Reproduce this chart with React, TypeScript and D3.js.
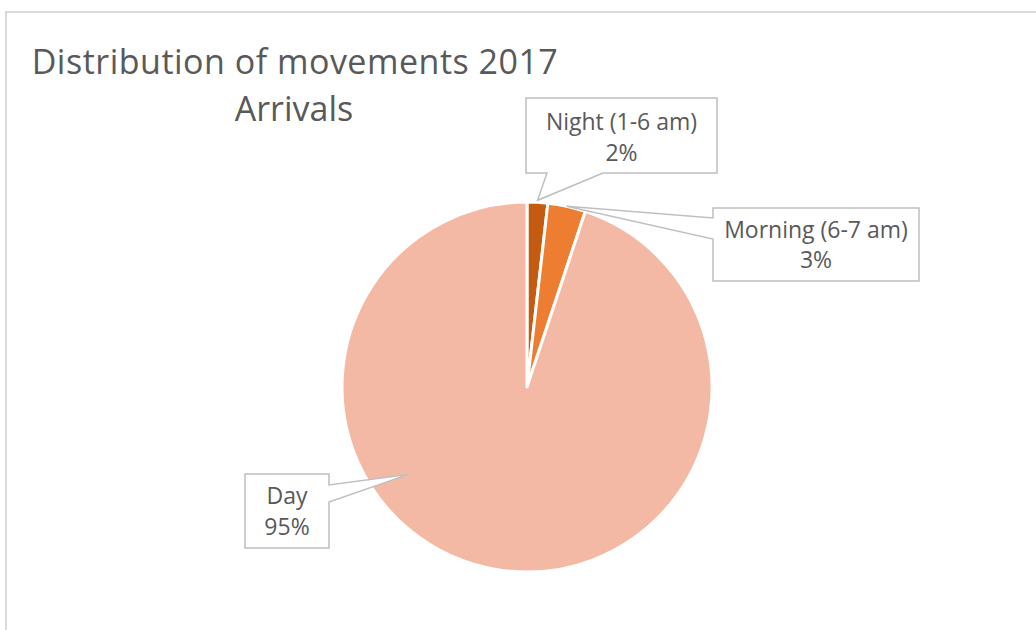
import React from "react";
import * as d3 from "d3";

const categories = ["Night (1-6 am)", "Morning (6-7 am)", "Day"];
const values = [1.8, 3.3, 94.9];
const percentLabels = ["2%", "3%", "95%"];
const colors = ["#C55A11", "#ED7D31", "#F4B9A4"];

const W = 1036;
const H = 630;
const cx = 527;
const cy = 387;
const R = 185;

export default function App() {
  const pie = d3.pie<number>().sort(null).value((d) => d);
  const arcs = pie(values);
  const arc = d3.arc<d3.PieArcDatum<number>>().innerRadius(0).outerRadius(R);

  const pointAt = (angle: number, r: number): [number, number] => [
    cx + r * Math.sin(angle),
    cy - r * Math.cos(angle),
  ];
  const mid = (a: d3.PieArcDatum<number>) => (a.startAngle + a.endAngle) / 2;

  const tipNight = pointAt(mid(arcs[0]), R + 2);
  const tipMorning = pointAt(mid(arcs[1]), R);
  const tipDay = pointAt((233.7 * Math.PI) / 180, R * 0.8);

  const calloutStroke = "#BFBFBF";
  const textColor = "#595959";
  const font = "'Open Sans', 'Noto Sans', sans-serif";

  const nightPath = `M526,98 H717 V173 H603 L${tipNight[0]},${tipNight[1]} L547,173 H526 Z`;
  const morningPath = `M713,208 H919 V281 H713 V239 L${tipMorning[0]},${tipMorning[1]} L713,218 Z`;
  const dayPath = `M245,474 H329 V485 L${tipDay[0]},${tipDay[1]} L329,502 V548 H245 Z`;

  return (
    <div style={{ position: "fixed", left: 0, top: 0, width: W, height: H, background: "#fff" }}>
      <svg width={W} height={H} style={{ display: "block" }}>
        <rect x={6} y={12} width={W + 20} height={H + 20} fill="#fff" stroke="#D9D9D9" strokeWidth={2} />
        <text x={295} y={74} textAnchor="middle" fontFamily={font} fontSize={34} fill={textColor} letterSpacing={0.5}>
          Distribution of movements 2017
        </text>
        <text x={294} y={121} textAnchor="middle" fontFamily={font} fontSize={34} fill={textColor}>
          Arrivals
        </text>
        <g transform={`translate(${cx},${cy})`}>
          {arcs.map((a, i) => (
            <path key={categories[i]} d={arc(a) || ""} fill={colors[i]} stroke="#fff" strokeWidth={3} strokeLinejoin="round" />
          ))}
        </g>
        <path d={nightPath} fill="#fff" stroke={calloutStroke} strokeWidth={1.5} />
        <path d={morningPath} fill="#fff" stroke={calloutStroke} strokeWidth={1.5} />
        <path d={dayPath} fill="#fff" stroke={calloutStroke} strokeWidth={1.5} />
        <g fontFamily={font} fontSize={23} fill={textColor} textAnchor="middle">
          <text x={621.5} y={130}>{categories[0]}</text>
          <text x={621.5} y={161}>{percentLabels[0]}</text>
          <text x={816} y={238}>{categories[1]}</text>
          <text x={816} y={268}>{percentLabels[1]}</text>
          <text x={287} y={504}>{categories[2]}</text>
          <text x={287} y={535}>{percentLabels[2]}</text>
        </g>
      </svg>
    </div>
  );
}
